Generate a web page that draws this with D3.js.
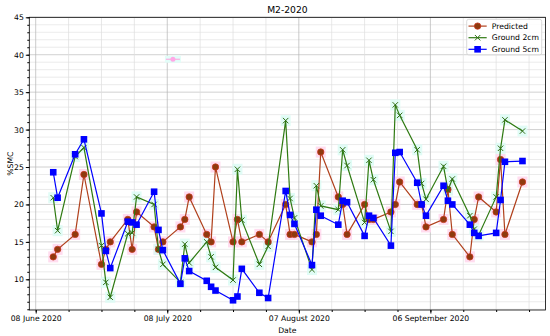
<!DOCTYPE html>
<html>
<head>
<meta charset="utf-8">
<script src="https://cdn.jsdelivr.net/npm/d3@7"></script>
<style>
  body { margin: 0; background: #fff; }
  text { font-family: "DejaVu Sans", sans-serif; }
</style>
</head>
<body>
<div id="chart"></div>
<script>
// sample dates (shared by the three series)
const dates = [
  "2020-06-12","2020-06-13","2020-06-17","2020-06-19","2020-06-23","2020-06-24","2020-06-25",
  "2020-06-29","2020-06-30","2020-07-01","2020-07-05","2020-07-06","2020-07-07",
  "2020-07-11","2020-07-12","2020-07-13","2020-07-17","2020-07-18","2020-07-19",
  "2020-07-23","2020-07-24","2020-07-25","2020-07-29","2020-07-31",
  "2020-08-04","2020-08-05","2020-08-06","2020-08-10","2020-08-11","2020-08-12",
  "2020-08-16","2020-08-17","2020-08-18","2020-08-22","2020-08-23","2020-08-24",
  "2020-08-28","2020-08-29","2020-08-30","2020-09-03","2020-09-04","2020-09-05",
  "2020-09-09","2020-09-10","2020-09-11","2020-09-15","2020-09-16","2020-09-17",
  "2020-09-21","2020-09-22","2020-09-23","2020-09-27"
];
const predicted = [
  13, 14, 16, 24, 12, 14, 15,
  18, 14, 19, 17, 14, 15,
  17, 18, 21, 16, 15, 25,
  15, 18, 15, 16, 15,
  20, 16, 16, 15, 16, 27,
  21, 20, 16, 20, 18, 18,
  19, 20, 23, 20, 20, 17,
  18, 22, 16, 13, 18, 21,
  19, 26, 16, 23
];
const ground2cm = [
  20.9, 16.5, 26.4, 27.6, 14.5, 9.6, 7.6,
  16.1, 16.2, 21.0, 20.0, 14.0, 12.0,
  9.6, 14.7, 12.2, 15.0, 13.0, 11.6,
  9.9, 24.7, 17.9, 12.0, 14.4,
  31.2, 20.8, 18.2, 11.3, 22.5, 19.8,
  19.3, 27.3, 25.2, 17.6, 25.9, 23.3,
  16.4, 33.3, 31.9, 27.3, 22.8, 20.7,
  25.1, 21.9, 23.4, 18.5, 16.7, 15.9,
  21.0, 27.5, 31.3, 29.8
];
const ground5cm = [
  24.3, 20.9, 26.7, 28.7, 18.8, 13.8, 11.5,
  17.7, 17.6, 17.3, 21.7, 16.6, 13.9,
  9.4, 12.8, 11.1, 9.8, 9.0, 8.5,
  7.2, 7.7, 11.4, 8.2, 7.5,
  21.8, 18.6, 17.4, 11.9, 19.3, 18.5,
  17.3, 20.5, 20.3, 15.8, 18.5, 18.2,
  14.5, 26.9, 27.0, 22.9, 20.0, 18.5,
  22.5, 20.5, 20.0, 17.3, 16.2, 15.8,
  16.2, 20.6, 25.7, 25.8
];
const strayMark = [{ date: "2020-07-09T07:00:00Z", value: 39.4 }];

const xTickDates = ["2020-06-08", "2020-07-08", "2020-08-07", "2020-09-06"];
const xTickLabels = ["08 June 2020", "08 July 2020", "07 August 2020", "06 September 2020"];
const yTicks = [10, 15, 20, 25, 30, 35, 40, 45];

const width = 550, height = 336;
const plot = { left: 29.3, right: 545.5, top: 17.3, bottom: 310 };

const parse = d3.utcParse("%Y-%m-%d");
const dayMs = 864e5;
const tickBase = parse(xTickDates[0]);

const x = d3.scaleUtc()
  .domain([new Date("2020-06-06T13:00:00Z"), new Date("2020-10-02T06:00:00Z")])
  .range([plot.left, plot.right]);
const y = d3.scaleLinear()
  .domain([5.9, 45])
  .range([plot.bottom, plot.top]);

const xMinor = d3.range(0, 16).map(k => new Date(tickBase.getTime() + k * 7.5 * dayMs));
const xMajor = xTickDates.map(parse);
const yMinor = d3.range(6, 46);

const svg = d3.select("#chart").append("svg")
  .attr("width", width)
  .attr("height", height);

// grid
const grid = svg.append("g");
grid.selectAll("line.hmin").data(yMinor).enter().append("line")
  .attr("x1", plot.left).attr("x2", plot.right)
  .attr("y1", d => y(d)).attr("y2", d => y(d))
  .attr("stroke", d => d % 5 === 0 ? "#bdbdbd" : "#e3e3e3")
  .attr("stroke-width", 0.7);
grid.selectAll("line.vmin").data(xMinor).enter().append("line")
  .attr("x1", d => x(d)).attr("x2", d => x(d))
  .attr("y1", plot.top).attr("y2", plot.bottom)
  .attr("stroke", (d, i) => i % 4 === 0 ? "#b5b5b5" : "#dedede")
  .attr("stroke-width", 0.7);

const series = [
  { name: "Predicted", values: predicted, line: "#b0401c", fill: "#8e3a0e", edge: "#c8361e", shape: "circle", halo: "#ffd6ec" },
  { name: "Ground 2cm", values: ground2cm, line: "#2f7a12", fill: "#2f6e14", edge: "#2f6e14", shape: "x", halo: "#dcfbf4" },
  { name: "Ground 5cm", values: ground5cm, line: "#0000ff", fill: "#0000ff", edge: "#0000ff", shape: "square", halo: null }
];

const pts = s => dates.map((d, i) => ({ date: parse(d), value: s.values[i] }));

// faint highlight boxes behind markers
series.filter(s => s.halo).forEach(s => {
  svg.append("g").selectAll("rect").data(pts(s)).enter().append("rect")
    .attr("x", d => x(d.date) - 5).attr("y", d => y(d.value) - 5.5)
    .attr("width", 10).attr("height", 11)
    .attr("fill", s.halo).attr("opacity", 0.85);
});

// stray mark near the top
const stray = svg.append("g");
strayMark.forEach(m => {
  const cx = x(new Date(m.date)), cy = y(m.value);
  stray.append("rect").attr("x", cx - 8).attr("y", cy - 3.5).attr("width", 16).attr("height", 7)
    .attr("fill", "#e2fdf8");
  stray.append("line").attr("x1", cx - 7).attr("x2", cx + 7).attr("y1", cy).attr("y2", cy)
    .attr("stroke", "#ff9ee0").attr("stroke-width", 1);
  stray.append("circle").attr("cx", cx).attr("cy", cy).attr("r", 2.5).attr("fill", "#ffa8e6");
});

const line = d3.line().x(d => x(d.date)).y(d => y(d.value));

function drawMarker(g, s, cx, cy) {
  if (s.shape === "circle") {
    g.append("circle").attr("cx", cx).attr("cy", cy).attr("r", 3.2)
      .attr("fill", s.fill).attr("stroke", s.edge).attr("stroke-width", 0.8);
  } else if (s.shape === "square") {
    g.append("rect").attr("x", cx - 3.3).attr("y", cy - 3.3).attr("width", 6.6).attr("height", 6.6)
      .attr("fill", s.fill);
  } else {
    g.append("path").attr("d", `M${cx - 2.7},${cy - 2.7}L${cx + 2.7},${cy + 2.7}M${cx - 2.7},${cy + 2.7}L${cx + 2.7},${cy - 2.7}`)
      .attr("stroke", s.fill).attr("stroke-width", 1);
  }
}

series.forEach(s => {
  const data = pts(s);
  const g = svg.append("g");
  g.append("path").datum(data)
    .attr("d", line)
    .attr("fill", "none")
    .attr("stroke", s.line)
    .attr("stroke-width", 1.2);
  data.forEach(d => drawMarker(g, s, x(d.date), y(d.value)));
});

// axes
const fmt = d => xTickLabels[xMajor.findIndex(t => t.getTime() === d.getTime())];
svg.append("g")
  .attr("transform", `translate(0,${plot.bottom})`)
  .call(d3.axisBottom(x).tickValues(xMinor).tickSize(2).tickFormat(""))
  .call(g => g.select(".domain").remove());
svg.append("g")
  .attr("transform", `translate(0,${plot.bottom})`)
  .call(d3.axisBottom(x).tickValues(xMajor).tickSize(3.5).tickPadding(2).tickFormat(fmt))
  .call(g => g.select(".domain").remove())
  .call(g => g.selectAll("text").attr("font-size", 7.7).attr("fill", "#000").attr("font-family", "DejaVu Sans"));

svg.append("g")
  .attr("transform", `translate(${plot.left},0)`)
  .call(d3.axisLeft(y).tickValues(yMinor).tickSize(2).tickFormat(""))
  .call(g => g.select(".domain").remove());
svg.append("g")
  .attr("transform", `translate(${plot.left},0)`)
  .call(d3.axisLeft(y).tickValues(yTicks).tickSize(3.5).tickPadding(2))
  .call(g => g.select(".domain").remove())
  .call(g => g.selectAll("text").attr("font-size", 7.7).attr("fill", "#000").attr("font-family", "DejaVu Sans"));

// frame
svg.append("rect")
  .attr("x", plot.left).attr("y", plot.top)
  .attr("width", plot.right - plot.left).attr("height", plot.bottom - plot.top)
  .attr("fill", "none").attr("stroke", "#000").attr("stroke-width", 0.8);

// labels
svg.append("text").attr("x", (plot.left + plot.right) / 2).attr("y", 12.5)
  .attr("text-anchor", "middle").attr("font-size", 9.2).text("M2-2020");
svg.append("text").attr("x", (plot.left + plot.right) / 2).attr("y", 333)
  .attr("text-anchor", "middle").attr("font-size", 7.7).text("Date");
svg.append("text").attr("transform", `translate(13,${(plot.top + plot.bottom) / 2}) rotate(-90)`)
  .attr("text-anchor", "middle").attr("font-size", 7.7).text("%SMC");

// legend
const legend = svg.append("g").attr("transform", "translate(466.7,19.3)");
legend.append("rect").attr("width", 75).attr("height", 35.5).attr("rx", 2)
  .attr("fill", "#fff").attr("fill-opacity", 0.85).attr("stroke", "#d0d0d0").attr("stroke-width", 0.8);
series.forEach((s, i) => {
  const row = legend.append("g").attr("transform", `translate(0,${6.8 + i * 11.6})`);
  row.append("line").attr("x1", 1.8).attr("x2", 20).attr("stroke", s.line).attr("stroke-width", 1.2);
  drawMarker(row, s, 10.9, 0);
  row.append("text").attr("x", 25).attr("y", 0).attr("dy", "0.35em")
    .attr("font-size", 7.7).text(s.name);
});
</script>
</body>
</html>
